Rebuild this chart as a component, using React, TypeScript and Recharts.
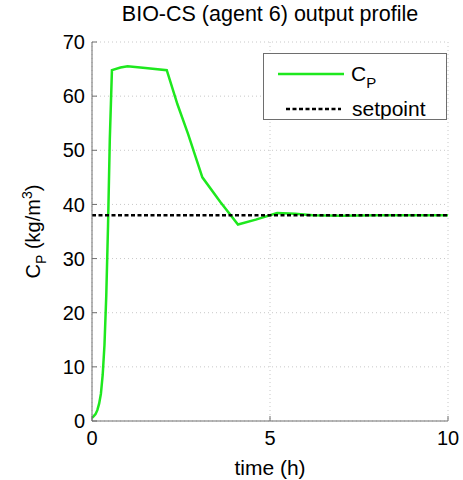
import {
    LineChart,
    Line,
    XAxis,
    YAxis,
    CartesianGrid,
} from "recharts";

const timeH = [0, 0.05, 0.1, 0.15, 0.2, 0.25, 0.3, 0.35, 0.4, 0.45, 0.5, 0.56, 0.8, 1.0, 1.5, 2.1, 2.4, 2.7, 3.1, 3.6, 4.1, 4.6, 5.2, 5.7, 6.2, 7, 8, 9, 10];
const cpValues = [0.6, 0.9, 1.3, 2.0, 3.2, 5.0, 8.5, 14, 23, 36, 52, 64.8, 65.3, 65.5, 65.2, 64.8, 58.5, 53, 45, 40.5, 36.3, 37.2, 38.4, 38.3, 38.0, 37.9, 38, 38, 38];
const setpointTime = [0, 10];
const setpointValue = [38, 38];
const xTicks = [0, 5, 10];
const yTicks = [0, 10, 20, 30, 40, 50, 60, 70];

const cpData = timeH.map((t, i) => ({ t, cp: cpValues[i] }));
const spData = setpointTime.map((t, i) => ({ t, sp: setpointValue[i] }));

const FONT = "'Liberation Sans', Arial, sans-serif";
const AXIS = "#6e6e6e";
const GREEN = "#1ee81e";

const YLabel = ({ viewBox }: any) => {
    const cx = 40;
    const cy = viewBox.y + viewBox.height / 2;
    return (
        <text
            x={cx}
            y={cy}
            transform={`rotate(-90 ${cx} ${cy})`}
            textAnchor="middle"
            fontFamily={FONT}
            fontSize={20}
            fill="#000"
        >
            C<tspan fontSize={14} dy={6}>P</tspan>
            <tspan dy={-6}> (kg/m</tspan>
            <tspan fontSize={14} dy={-8}>3</tspan>
            <tspan dy={8}>)</tspan>
        </text>
    );
};

const LegendBox = () => (
    <div
        style={{
            position: "absolute",
            top: 53,
            left: 263,
            width: 184,
            height: 67,
            border: `1px solid ${AXIS}`,
            background: "#fff",
            boxSizing: "border-box",
        }}
    >
        <svg width={182} height={65} style={{ position: "absolute", left: 0, top: 0 }}>
            <line x1={14} x2={80} y1={20} y2={20} stroke={GREEN} strokeWidth={2.5} />
            <line x1={22} x2={77} y1={55} y2={55} stroke="#000" strokeWidth={2.5} strokeDasharray="4 2.5" />
            <text x={87} y={27} fontFamily={FONT} fontSize={21}>
                C<tspan fontSize={15} dy={7}>P</tspan>
            </text>
            <text x={88} y={62} fontFamily={FONT} fontSize={21}>setpoint</text>
        </svg>
    </div>
);

export default function App() {
    return (
        <div style={{ position: "absolute", left: 0, top: 0, width: 463, height: 480, background: "#fff" }}>
            <div
                style={{
                    position: "absolute",
                    top: 2,
                    left: 92,
                    width: 356,
                    textAlign: "center",
                    fontFamily: FONT,
                    fontSize: 21.5,
                    whiteSpace: "nowrap",
                }}
            >
                BIO-CS (agent 6) output profile
            </div>
            <LineChart
                width={463}
                height={480}
                margin={{ top: 42, right: 15, bottom: 0, left: 62 }}
            >
                <CartesianGrid stroke="#c8c8c8" strokeDasharray="1 3" horizontalValues={yTicks} verticalValues={xTicks} />
                <XAxis
                    dataKey="t"
                    type="number"
                    domain={[0, 10]}
                    ticks={xTicks}
                    height={59}
                    stroke={AXIS}
                    tickSize={-5}
                    tickMargin={15}
                    tick={{ fill: "#000", fontSize: 20, fontFamily: FONT }}
                    allowDataOverflow
                    label={{ value: "time (h)", position: "insideBottom", offset: 5, fill: "#000", fontSize: 21, fontFamily: FONT }}
                />
                <XAxis xAxisId="top" orientation="top" type="number" domain={[0, 10]} ticks={xTicks} height={0} stroke={AXIS} tickSize={-5} tick={false} />
                <YAxis
                    type="number"
                    domain={[0, 70]}
                    ticks={yTicks}
                    width={30}
                    stroke={AXIS}
                    tickSize={-5}
                    tickMargin={12}
                    tick={{ fill: "#000", fontSize: 20, fontFamily: FONT }}
                    label={<YLabel />}
                />
                <YAxis yAxisId="right" orientation="right" type="number" domain={[0, 70]} ticks={yTicks} width={0} stroke={AXIS} tickSize={-5} tick={false} />
                <Line
                    data={cpData}
                    dataKey="cp"
                    type="linear"
                    stroke={GREEN}
                    strokeWidth={2.5}
                    dot={false}
                    isAnimationActive={false}
                />
                <Line
                    data={spData}
                    dataKey="sp"
                    type="linear"
                    stroke="#000"
                    strokeWidth={2.5}
                    strokeDasharray="4 2.5"
                    dot={false}
                    isAnimationActive={false}
                />
            </LineChart>
            <LegendBox />
        </div>
    );
}
